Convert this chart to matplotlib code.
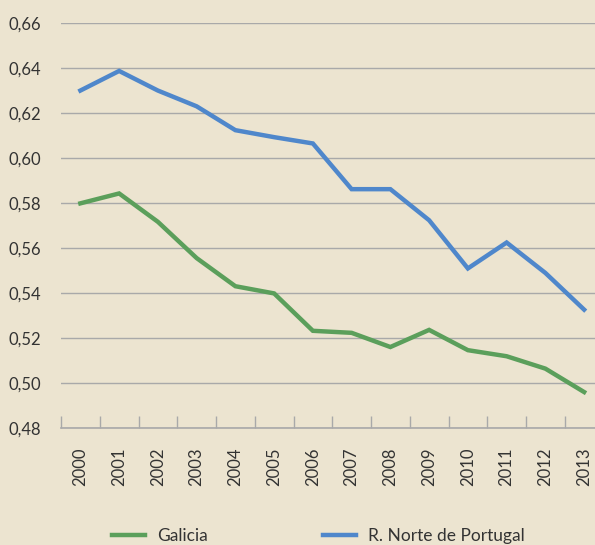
import matplotlib.pyplot as plt
import numpy as np

years = [str(y) for y in range(2000, 2014)]
galicia = [0.5799, 0.5843, 0.5717, 0.5556, 0.5431, 0.5399, 0.5233,
           0.5224, 0.5161, 0.5237, 0.5147, 0.5120, 0.5065, 0.4961]
norte = [0.6300, 0.6387, 0.6300, 0.6230, 0.6124, 0.6093, 0.6065,
         0.5862, 0.5862, 0.5724, 0.5510, 0.5625, 0.5490, 0.5327]
yticks = [0.48, 0.50, 0.52, 0.54, 0.56, 0.58, 0.60, 0.62, 0.64, 0.66]

BG = "#ece4d0"
GRID = "#a9a9a9"
TXT = "#333333"
FS = 12

plt.rcParams['font.family'] = ['Lato', 'DejaVu Sans']

fig = plt.figure(figsize=(5.95, 5.45), dpi=100, facecolor=BG)
W, H = 595, 545
ax = fig.add_axes([61 / W, 1 - 428.3 / H, (603.5 - 61) / W, (428.3 - 23) / H])
ax.set_facecolor(BG)

x = np.arange(len(years))
ax.plot(x, galicia, color="#5b9f5b", lw=3.2, solid_joinstyle="miter", label="Galicia")
ax.plot(x, norte, color="#4f87cb", lw=3.2, solid_joinstyle="miter", label="R. Norte de Portugal")

ax.set_xlim(-0.5, len(years) - 0.5)
ax.set_ylim(0.48, 0.66)
ax.set_yticks(yticks)
ax.set_yticklabels([f"{v:.2f}".replace(".", ",") for v in yticks])
ax.grid(axis="y", color=GRID, lw=1)
ax.set_axisbelow(True)

ax.set_xticks(x)
ax.set_xticklabels(years, rotation=90)
ax.set_xticks(np.arange(-0.5, len(years), 1), minor=True)
ax.tick_params(axis="x", which="major", length=0, pad=14, labelsize=FS, labelcolor=TXT)
ax.tick_params(axis="x", which="minor", length=9, direction="in", color=GRID, width=1)
ax.tick_params(axis="y", length=0, pad=14, labelsize=FS, labelcolor=TXT)

for s in ["top", "right", "left"]:
    ax.spines[s].set_visible(False)
ax.spines["bottom"].set_color(GRID)
ax.spines["bottom"].set_linewidth(1.2)

fig.legend(loc="center", bbox_to_anchor=(0.535, 1 - 536 / H), ncol=2, frameon=False,
           fontsize=12.5, labelcolor=TXT, handlelength=1.9, handletextpad=0.7,
           columnspacing=6.6)

fig.savefig("out.png", dpi=100, facecolor=BG)
